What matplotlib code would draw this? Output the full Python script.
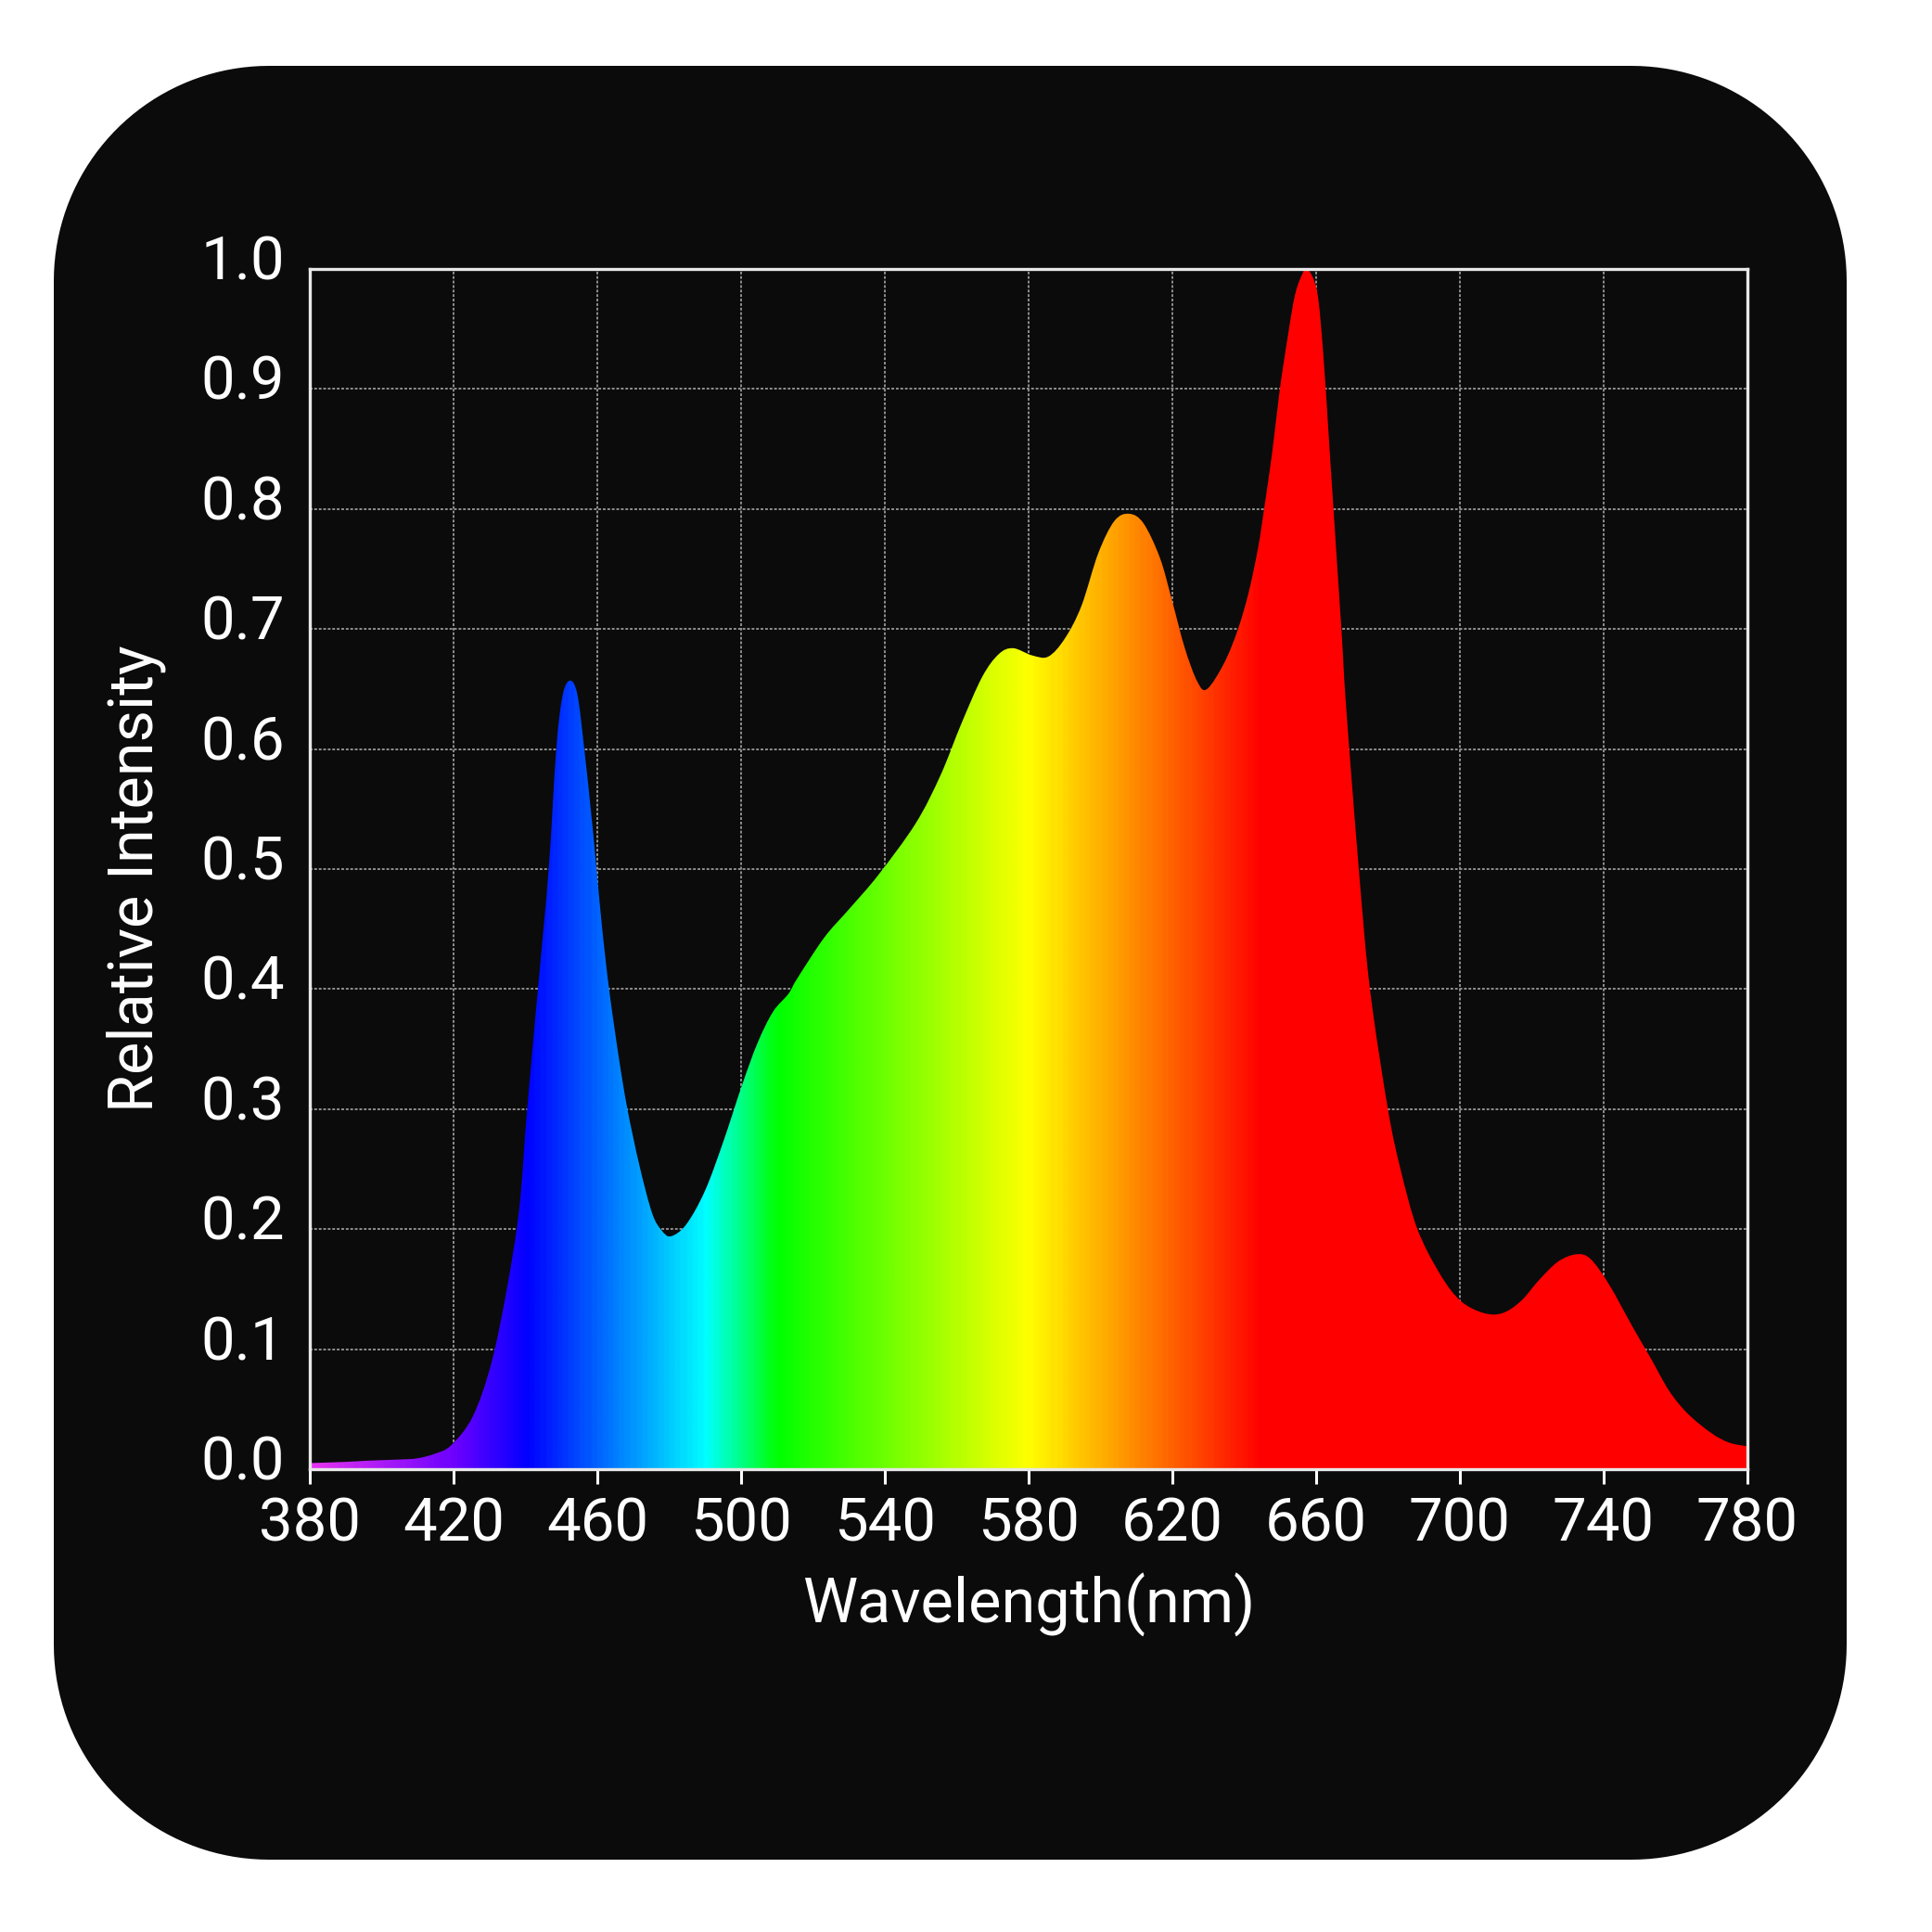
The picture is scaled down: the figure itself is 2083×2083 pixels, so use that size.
import numpy as np
import matplotlib
matplotlib.use('Agg')
import matplotlib.pyplot as plt
from matplotlib.colors import LinearSegmentedColormap
from matplotlib.patches import PathPatch
from matplotlib.path import Path
from matplotlib.transforms import ScaledTranslation

plt.rcParams['font.family'] = ['Roboto', 'DejaVu Sans']

# spectrum
wavelength = [380, 390, 396, 405, 410, 415, 419.4, 425.4, 430.6, 434.9, 438.3, 440.5,
              443.5, 446.5, 448.6, 450.4, 452.5, 454.5, 456.4, 458.5, 459.8, 461.5,
              463.3, 465.9, 468.4, 471.9, 475.3, 477.9, 480.5, 484.8, 490, 495.1,
              500.3, 504.6, 508.9, 513.2, 515.7, 523.2, 530.2, 538.2, 548.6, 555.5,
              561.3, 567.1, 571.7, 575.7, 581, 585.5, 590.1, 594.7, 599.4, 603.9,
              608.0, 612.0, 616.6, 620, 623.5, 627, 629.7, 634.5, 638.3, 641.3,
              643.9, 645.6, 647.8, 649.9, 652.1, 654.2, 656.4, 657.7, 660.3, 662.0,
              663.7, 665.4, 667.1, 668.4, 671.9, 675, 680, 683.5, 688.2, 694.6,
              700.3, 706.7, 711.9, 717, 722.2, 727.4, 732.5, 736.4, 741.5, 748,
              753.2, 758.3, 763.5, 770, 775, 780]
intensity = [0.005, 0.006, 0.007, 0.008, 0.009, 0.013, 0.020, 0.044, 0.089, 0.151, 0.217, 0.30,
             0.40, 0.50, 0.60, 0.645, 0.657, 0.645, 0.60, 0.541, 0.50, 0.447,
             0.40, 0.345, 0.30, 0.251, 0.213, 0.199, 0.194, 0.204, 0.232, 0.273,
             0.320, 0.355, 0.381, 0.396, 0.409, 0.443, 0.467, 0.495, 0.538, 0.578,
             0.621, 0.660, 0.679, 0.684, 0.678, 0.677, 0.692, 0.719, 0.763, 0.790,
             0.796, 0.788, 0.759, 0.723, 0.684, 0.656, 0.650, 0.672, 0.700, 0.731,
             0.768, 0.801, 0.847, 0.899, 0.943, 0.979, 0.997, 1.0, 0.981, 0.93,
             0.853, 0.775, 0.698, 0.634, 0.50, 0.40, 0.30, 0.25, 0.20, 0.162,
             0.140, 0.130, 0.130, 0.140, 0.158, 0.173, 0.179, 0.175, 0.154, 0.119,
             0.092, 0.065, 0.046, 0.030, 0.022, 0.019]

xticks = [380, 420, 460, 500, 540, 580, 620, 660, 700, 740, 780]
yticks = [0.0, 0.1, 0.2, 0.3, 0.4, 0.5, 0.6, 0.7, 0.8, 0.9, 1.0]

# spectral colours along the x axis
stops = [(380, '#e633f0'), (420, '#6a00ff'), (440, '#0000ff'), (490, '#00ffff'),
         (510, '#00ff00'), (580, '#ffff00'), (645, '#ff0000'), (780, '#ff0000')]
cmap = LinearSegmentedColormap.from_list(
    'spec', [((w - 380) / 400., c) for w, c in stops])

bg = '#0b0b0b'
W = 2083
fig = plt.figure(figsize=(20.83, 20.83), dpi=100, facecolor='white')

# rounded black card behind the chart (pixel coords)
x0, y0, x1, y1, r = 58, W - 2005, 1991, W - 71, 232
t = np.linspace(0, np.pi / 2, 40)
corners = [(x1 - r, y1 - r, 0), (x0 + r, y1 - r, np.pi / 2),
           (x0 + r, y0 + r, np.pi), (x1 - r, y0 + r, 1.5 * np.pi)]
pts = np.vstack([np.c_[cx + r * np.cos(t + a), cy + r * np.sin(t + a)] for cx, cy, a in corners])
card = plt.Polygon(pts / W, closed=True, transform=fig.transFigure,
                   facecolor=bg, edgecolor='none', zorder=-5)
fig.patches.append(card)

ax = fig.add_axes([0.1603, 0.2396, 0.7441, 0.6212])
ax.set_facecolor(bg)
ax.set_xlim(380, 780)
ax.set_ylim(0, 1.0)

grad = np.linspace(0, 1, 800).reshape(1, -1)
im = ax.imshow(grad, cmap=cmap, extent=[380, 780, 0, 1], aspect='auto',
               origin='lower', zorder=2, interpolation='bilinear')

# smooth outline through the read points (Catmull-Rom as Bezier segments)
P = np.c_[wavelength, intensity]
verts = [(P[0, 0], 0), tuple(P[0])]
codes = [Path.MOVETO, Path.LINETO]
for i in range(len(P) - 1):
    pm = P[i - 1] if i > 0 else P[i]
    pn = P[i + 2] if i + 2 < len(P) else P[i + 1]
    c1 = P[i] + (P[i + 1] - pm) / 6.
    c2 = P[i + 1] - (pn - P[i]) / 6.
    verts += [tuple(c1), tuple(c2), tuple(P[i + 1])]
    codes += [Path.CURVE4] * 3
verts += [(P[-1, 0], 0), (P[0, 0], 0)]
codes += [Path.LINETO, Path.CLOSEPOLY]
outline = PathPatch(Path(verts, codes), facecolor='none', edgecolor='none')
ax.add_patch(outline)
im.set_clip_path(outline)

ax.set_xticks(xticks)
ax.set_yticks(yticks)
ax.set_yticklabels(['%.1f' % v for v in yticks])
ax.grid(True, color='#8f8f8f', lw=1.4, ls=(0, (1.5, 1)))
ax.set_axisbelow(True)

for s in ax.spines.values():
    s.set_color('#e8e8e8')
    s.set_linewidth(2.4)
    s.set_zorder(3)

ax.tick_params(axis='x', colors='white', labelsize=47, length=11.5, width=2.2,
               direction='out', pad=9)
ax.tick_params(axis='y', colors='white', labelsize=47, length=0, pad=19.5)
for lab in ax.get_yticklabels():
    lab.set_transform(lab.get_transform() + ScaledTranslation(0, 13 / 100., fig.dpi_scale_trans))

fig.text(0.5324, 0.1599, 'Wavelength(nm)', color='white', fontsize=48,
         ha='center', va='baseline')
fig.text(0.0792, 0.5454, 'Relative Intensity', color='white', fontsize=48,
         rotation=90, rotation_mode='anchor', ha='center', va='baseline')

fig.savefig('out.png', dpi=100, facecolor='white')
